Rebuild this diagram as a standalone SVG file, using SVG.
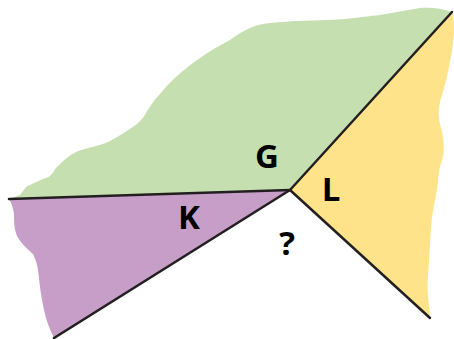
<svg xmlns="http://www.w3.org/2000/svg" width="454" height="339" viewBox="0 0 454 339">
<style>
.lbl{font-family:"Open Sans","DejaVu Sans",sans-serif;font-weight:bold;font-size:33px;fill:#000;text-anchor:middle}
.edge{stroke:#231f20;stroke-width:2.5;fill:none;stroke-linecap:round}
</style>
<rect width="454" height="339" fill="#fff"/>
<g id="G">
<path d="M9,199 L20,195 C24,190 26,186 30,185 C36,182 40,180 46,178 C52,176 53,172 56,168 C62,162 68,156 76,152 C88,147 100,146 108,142 C118,137 128,130 137,124 C142,120 144,116 146,113 C150,106 154,100 160,94 C170,82 180,72 200,58 C210,51 220,45 230,40 C238,34 246,29 258,25 C272,22 284,22 296,21 C320,20 336,20 346,19 C362,17 370,16 380,15 C394,13 406,10 420,8 C430,7 442,8 452,12 L290,190 Z" fill="#c6dfb1"/>
<text class="lbl" x="267" y="168">G</text>
</g>
<g id="L">
<path d="M452,12 C454,16 454,24 454,33 C452,60 444,90 440,102 C438,110 438,116 440,124 C443,134 445,148 443,156 C441,164 438,172 438,182 C437,194 433,206 432,218 C430,236 430,250 429,262 C428,276 427,284 428,296 C429,306 430,312 430,318 L290,190 Z" fill="#ffe38b"/>
<text class="lbl" x="331" y="201">L</text>
</g>
<g id="K">
<path d="M9,199 C12,204 13,208 14,214 C14,222 14,228 17,236 C20,242 26,248 33,254 C37,262 38,268 39,278 C40,290 42,300 44,310 C46,320 50,330 54,338 L290,190 Z" fill="#c69ec8"/>
<text class="lbl" x="189" y="229">K</text>
</g>
<g id="unknown">
<text class="lbl" x="287" y="255">?</text>
</g>
<g id="connectors">
<line class="edge" x1="9" y1="199" x2="290" y2="190"/>
<line class="edge" x1="290" y1="190" x2="452" y2="12"/>
<line class="edge" x1="290" y1="190" x2="54" y2="338"/>
<line class="edge" x1="290" y1="190" x2="430" y2="318"/>
</g>
</svg>
